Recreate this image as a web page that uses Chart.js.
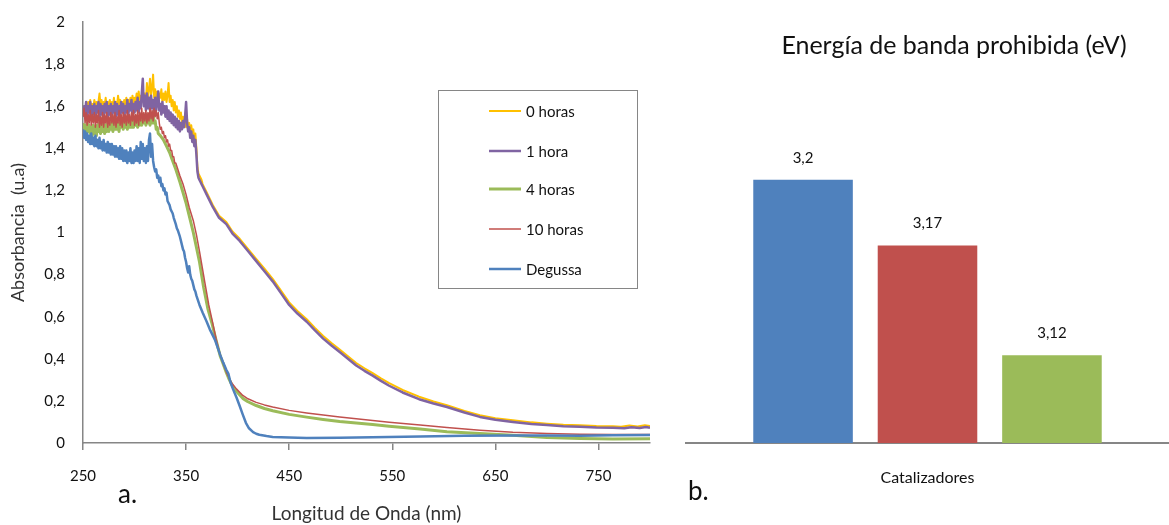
<!DOCTYPE html>
<html>
<head>
<meta charset="utf-8">
<script src="https://cdn.jsdelivr.net/npm/chart.js@4.4.1/dist/chart.umd.min.js"></script>
<style>
  body { margin: 0; background: #fff; }
  #left { position: absolute; left: 0; top: 0; }
  #right { position: absolute; left: 680px; top: 0; }
</style>
</head>
<body>
<canvas id="left" width="680" height="525"></canvas>
<canvas id="right" width="489" height="525"></canvas>
<script>
// a. absorbance spectra, [wavelength nm, absorbance]
const horas0 = [[250,1.56],[251,1.60],[252,1.57],[253,1.61],[254,1.58],[255,1.62],[256,1.59],[257,1.63],[258,1.58],[259,1.61],[260,1.59],[261,1.63],[262,1.58],[263,1.62],[264,1.60],[265,1.62],[266,1.66],[267,1.60],[268,1.63],[269,1.59],[270,1.62],[271,1.60],[272,1.64],[273,1.59],[274,1.62],[275,1.60],[276,1.63],[277,1.59],[278,1.62],[279,1.60],[280,1.64],[281,1.59],[282,1.62],[283,1.60],[284,1.65],[285,1.61],[286,1.63],[287,1.59],[288,1.62],[289,1.60],[290,1.63],[291,1.60],[292,1.64],[293,1.61],[294,1.63],[295,1.60],[296,1.64],[297,1.61],[298,1.65],[299,1.61],[300,1.64],[301,1.62],[302,1.66],[303,1.62],[304,1.67],[305,1.63],[306,1.65],[307,1.62],[308,1.68],[309,1.63],[310,1.66],[311,1.62],[312,1.71],[313,1.64],[314,1.68],[315,1.73],[316,1.65],[317,1.69],[318,1.75],[319,1.64],[320,1.68],[321,1.63],[322,1.67],[323,1.62],[324,1.66],[325,1.64],[326,1.68],[327,1.62],[328,1.66],[329,1.63],[330,1.67],[331,1.62],[332,1.65],[333,1.71],[334,1.62],[335,1.65],[336,1.60],[337,1.63],[338,1.58],[339,1.62],[340,1.57],[341,1.60],[342,1.55],[343,1.58],[344,1.54],[345,1.57],[346,1.52],[347,1.55],[348,1.51],[349,1.54],[350,1.50],[351,1.54],[352,1.49],[353,1.52],[354,1.48],[355,1.51],[356,1.47],[357,1.49],[358,1.44],[359,1.47],[360,1.40],[361,1.31],[362,1.28],[363,1.27],[364,1.26],[365,1.25],[366,1.23],[370,1.19],[376,1.13],[382,1.08],[389,1.05],[395,1.005],[402,0.97],[410,0.922],[418,0.875],[426,0.828],[434,0.78],[442,0.724],[450,0.668],[458,0.627],[467,0.588],[475,0.547],[483,0.508],[491,0.475],[499,0.444],[507,0.412],[515,0.38],[523,0.355],[531,0.332],[539,0.307],[547,0.284],[560,0.252],[576,0.22],[590,0.197],[603,0.179],[620,0.152],[635,0.132],[650,0.118],[667,0.108],[685,0.098],[700,0.092],[716,0.087],[732,0.084],[748,0.081],[764,0.08],[772,0.077],[780,0.083],[788,0.078],[795,0.084],[800,0.081]];
const hora1 = [[250,1.55],[251,1.60],[252,1.56],[253,1.62],[254,1.55],[255,1.60],[256,1.57],[257,1.62],[258,1.54],[259,1.60],[260,1.56],[261,1.61],[262,1.55],[263,1.60],[264,1.57],[265,1.62],[266,1.55],[267,1.61],[268,1.56],[269,1.60],[270,1.55],[271,1.61],[272,1.57],[273,1.62],[274,1.55],[275,1.60],[276,1.56],[277,1.61],[278,1.54],[279,1.60],[280,1.57],[281,1.62],[282,1.55],[283,1.61],[284,1.56],[285,1.60],[286,1.55],[287,1.62],[288,1.57],[289,1.61],[290,1.55],[291,1.60],[292,1.57],[293,1.63],[294,1.56],[295,1.61],[296,1.58],[297,1.63],[298,1.56],[299,1.61],[300,1.57],[301,1.62],[302,1.58],[303,1.64],[304,1.57],[305,1.62],[306,1.59],[307,1.66],[308,1.73],[309,1.60],[310,1.65],[311,1.58],[312,1.66],[313,1.59],[314,1.64],[315,1.58],[316,1.65],[317,1.59],[318,1.63],[319,1.57],[320,1.64],[321,1.58],[322,1.62],[323,1.67],[324,1.58],[325,1.61],[326,1.56],[327,1.62],[328,1.57],[329,1.60],[330,1.55],[331,1.60],[332,1.54],[333,1.58],[334,1.53],[335,1.57],[336,1.52],[337,1.56],[338,1.51],[339,1.55],[340,1.50],[341,1.54],[342,1.49],[343,1.53],[344,1.48],[345,1.52],[346,1.49],[347,1.53],[348,1.50],[349,1.55],[350,1.62],[351,1.52],[352,1.48],[353,1.50],[354,1.45],[355,1.48],[356,1.43],[357,1.46],[358,1.41],[359,1.44],[360,1.37],[361,1.29],[362,1.26],[363,1.25],[364,1.24],[365,1.23],[366,1.22],[370,1.18],[376,1.12],[382,1.07],[389,1.04],[395,0.995],[402,0.96],[410,0.912],[418,0.864],[426,0.816],[434,0.768],[442,0.712],[450,0.656],[458,0.615],[467,0.576],[475,0.535],[483,0.496],[491,0.463],[499,0.432],[507,0.40],[515,0.368],[523,0.343],[531,0.32],[539,0.295],[547,0.272],[560,0.24],[576,0.208],[590,0.188],[603,0.171],[620,0.145],[635,0.124],[650,0.11],[667,0.10],[685,0.09],[700,0.085],[716,0.08],[732,0.077],[748,0.074],[764,0.073],[775,0.07],[782,0.075],[790,0.071],[796,0.076],[800,0.072]];
const horas4 = [[250,1.52],[251,1.48],[252,1.51],[253,1.47],[254,1.52],[255,1.48],[256,1.51],[257,1.47],[258,1.50],[259,1.46],[260,1.51],[261,1.47],[262,1.50],[263,1.46],[264,1.51],[265,1.48],[266,1.52],[267,1.47],[268,1.51],[269,1.48],[270,1.52],[271,1.47],[272,1.51],[273,1.48],[274,1.53],[275,1.48],[276,1.52],[277,1.49],[278,1.53],[279,1.48],[280,1.52],[281,1.49],[282,1.53],[283,1.49],[284,1.52],[285,1.48],[286,1.53],[287,1.50],[288,1.54],[289,1.49],[290,1.53],[291,1.50],[292,1.54],[293,1.49],[294,1.53],[295,1.50],[296,1.54],[297,1.50],[298,1.55],[299,1.50],[300,1.54],[301,1.51],[302,1.55],[303,1.50],[304,1.54],[305,1.51],[306,1.55],[307,1.51],[308,1.56],[309,1.52],[310,1.55],[311,1.51],[312,1.56],[313,1.52],[314,1.55],[315,1.51],[316,1.56],[317,1.52],[318,1.57],[319,1.52],[320,1.53],[321,1.49],[322,1.50],[323,1.47],[325,1.46],[328,1.44],[331,1.41],[334,1.38],[337,1.34],[340,1.30],[344,1.24],[347,1.19],[350,1.14],[353,1.08],[357,1.00],[360,0.93],[363,0.86],[367,0.74],[371,0.64],[375,0.57],[379,0.49],[383,0.415],[386,0.375],[389,0.335],[392,0.30],[395,0.27],[399,0.245],[405,0.212],[410,0.196],[418,0.178],[426,0.164],[434,0.153],[450,0.136],[467,0.123],[483,0.112],[499,0.102],[515,0.095],[531,0.088],[547,0.08],[577,0.066],[603,0.054],[635,0.045],[667,0.037],[700,0.026],[732,0.021],[764,0.019],[800,0.02]];
const horas10 = [[250,1.55],[251,1.59],[252,1.52],[253,1.57],[254,1.51],[255,1.56],[256,1.52],[257,1.58],[258,1.51],[259,1.56],[260,1.52],[261,1.57],[262,1.50],[263,1.56],[264,1.52],[265,1.58],[266,1.50],[267,1.55],[268,1.51],[269,1.57],[270,1.50],[271,1.56],[272,1.52],[273,1.57],[274,1.50],[275,1.55],[276,1.51],[277,1.57],[278,1.52],[279,1.56],[280,1.51],[281,1.57],[282,1.50],[283,1.55],[284,1.52],[285,1.58],[286,1.51],[287,1.56],[288,1.50],[289,1.57],[290,1.52],[291,1.56],[292,1.51],[293,1.58],[294,1.52],[295,1.56],[296,1.51],[297,1.57],[298,1.53],[299,1.58],[300,1.51],[301,1.56],[302,1.52],[303,1.58],[304,1.51],[305,1.57],[306,1.53],[307,1.59],[308,1.52],[309,1.57],[310,1.53],[311,1.58],[312,1.52],[313,1.57],[314,1.53],[315,1.59],[316,1.54],[317,1.58],[318,1.53],[319,1.59],[320,1.55],[321,1.58],[322,1.54],[323,1.57],[324,1.52],[325,1.49],[326,1.50],[327,1.47],[328,1.48],[329,1.45],[330,1.46],[331,1.43],[332,1.44],[333,1.41],[334,1.42],[335,1.39],[336,1.39],[337,1.36],[338,1.36],[339,1.33],[340,1.33],[344,1.27],[347,1.23],[350,1.18],[353,1.12],[357,1.056],[360,0.99],[363,0.91],[368,0.768],[372,0.656],[376,0.566],[379,0.496],[383,0.42],[386,0.378],[389,0.338],[392,0.305],[395,0.28],[399,0.256],[405,0.226],[410,0.21],[418,0.193],[426,0.181],[434,0.171],[450,0.155],[467,0.143],[483,0.133],[499,0.124],[515,0.115],[531,0.107],[547,0.099],[577,0.086],[603,0.074],[635,0.061],[667,0.051],[700,0.045],[732,0.042],[764,0.04],[800,0.04]];
const degussa = [[250,1.49],[251,1.45],[252,1.48],[253,1.44],[254,1.47],[255,1.43],[256,1.46],[257,1.42],[258,1.47],[259,1.42],[260,1.45],[261,1.41],[262,1.46],[263,1.41],[264,1.44],[265,1.40],[266,1.45],[267,1.40],[268,1.43],[269,1.39],[270,1.44],[271,1.39],[272,1.42],[273,1.38],[274,1.43],[275,1.38],[276,1.42],[277,1.37],[278,1.42],[279,1.37],[280,1.41],[281,1.36],[282,1.41],[283,1.36],[284,1.40],[285,1.35],[286,1.41],[287,1.35],[288,1.40],[289,1.34],[290,1.39],[291,1.34],[292,1.39],[293,1.33],[294,1.38],[295,1.34],[296,1.40],[297,1.33],[298,1.38],[299,1.33],[300,1.39],[301,1.34],[302,1.41],[303,1.34],[304,1.40],[305,1.33],[306,1.43],[307,1.35],[308,1.42],[309,1.34],[310,1.40],[311,1.33],[312,1.41],[313,1.34],[314,1.44],[315,1.47],[316,1.36],[317,1.42],[318,1.34],[319,1.31],[320,1.29],[321,1.30],[322,1.26],[323,1.27],[324,1.24],[325,1.26],[326,1.22],[327,1.23],[328,1.20],[329,1.21],[330,1.18],[331,1.19],[332,1.15],[334,1.13],[335,1.11],[337,1.09],[338,1.07],[340,1.04],[341,1.02],[342,1.01],[344,0.98],[345,0.96],[347,0.92],[348,0.91],[349,0.88],[350,0.86],[351,0.83],[352,0.81],[353,0.84],[354,0.80],[355,0.78],[356,0.77],[357,0.75],[358,0.73],[359,0.72],[360,0.70],[363,0.656],[366,0.62],[370,0.576],[373,0.54],[376,0.51],[378,0.49],[383,0.42],[386,0.382],[389,0.348],[391,0.33],[393,0.29],[395.5,0.256],[399,0.215],[402,0.176],[405,0.135],[408,0.096],[411,0.07],[415,0.052],[418,0.044],[421,0.039],[428,0.033],[434,0.029],[450,0.026],[467,0.024],[499,0.025],[531,0.027],[577,0.031],[620,0.034],[667,0.036],[700,0.036],[732,0.035],[764,0.037],[800,0.038]];

const seriesNames = ['0 horas', '1 hora', '4 horas', '10 horas', 'Degussa'];
const seriesData = [horas0, hora1, horas4, horas10, degussa];
const seriesColors = ['#FFC000', '#8064A2', '#9BBB59', '#C0504D', '#4F81BD'];
const seriesWidths = [2, 2.5, 3, 1.5, 2.5];
const xTicks = [250, 350, 450, 550, 650, 750];

// b. band gap
const barCategories = ['Catalizadores'];
const barNames = ['Degussa', '10 horas', '4 horas'];
const bandGap = [3.2, 3.17, 3.12];
const barColors = ['#4F81BD', '#C0504D', '#9BBB59'];

const txt = '#111';
const axisGrey = '#868686';

// legend box inside the spectra chart
const boxLegend = {
  id: 'boxLegend',
  afterDraw(chart) {
    const ctx = chart.ctx;
    ctx.save();
    ctx.fillStyle = '#fff';
    ctx.fillRect(438, 90, 199, 198);
    ctx.strokeStyle = axisGrey;
    ctx.lineWidth = 1;
    ctx.strokeRect(438.5, 90.5, 199, 198);
    const rows = [111, 151, 189, 229, 269];
    ctx.font = '15px Lato';
    ctx.textBaseline = 'middle';
    seriesNames.forEach((name, i) => {
      ctx.strokeStyle = seriesColors[i];
      ctx.lineWidth = seriesWidths[i];
      ctx.beginPath();
      ctx.moveTo(489, rows[i]);
      ctx.lineTo(521, rows[i]);
      ctx.stroke();
      ctx.fillStyle = txt;
      ctx.fillText(name, 526, rows[i] + 1);
    });
    ctx.font = '26px Lato';
    ctx.textBaseline = 'alphabetic';
    ctx.fillText('a.', 118, 503);
    ctx.restore();
  }
};

new Chart(document.getElementById('left'), {
  type: 'line',
  data: {
    datasets: seriesData.map((d, i) => ({
      label: seriesNames[i],
      data: d.map(p => ({ x: p[0], y: p[1] })),
      borderColor: seriesColors[i],
      borderWidth: seriesWidths[i],
      borderJoinStyle: 'round',
      pointRadius: 0,
      order: seriesNames.length - i
    }))
  },
  options: {
    responsive: false,
    animation: false,
    layout: { padding: { top: 22, right: 30, left: 0, bottom: 0 } },
    plugins: { legend: { display: false }, tooltip: { enabled: false } },
    scales: {
      x: {
        type: 'linear', min: 250, max: 800,
        afterBuildTicks: s => { s.ticks = xTicks.map(v => ({ value: v })); },
        afterFit: s => { s.height = 82; },
        grid: { drawOnChartArea: false, drawTicks: true, tickLength: 7, color: axisGrey, lineWidth: 1.5 },
        border: { color: axisGrey, width: 1.5 },
        ticks: { padding: 17, maxRotation: 0, color: txt, font: { family: 'Lato', size: 15 } },
        title: { display: true, text: 'Longitud de Onda (nm)', color: '#333', font: { family: 'Lato', size: 19 }, padding: { top: 0, bottom: 0 } }
      },
      y: {
        min: 0, max: 2,
        afterFit: s => { s.width = 83; },
        grid: { drawOnChartArea: false, drawTicks: true, tickLength: 5, color: 'rgba(0,0,0,0)' },
        border: { color: axisGrey, width: 1.5 },
        ticks: {
          stepSize: 0.2, padding: 13, color: txt, font: { family: 'Lato', size: 15 },
          callback: v => String(Number(v.toFixed(1))).replace('.', ',')
        },
        title: { display: true, text: 'Absorbancia  (u.a)', color: '#333', font: { family: 'Lato', size: 18 }, padding: { top: 7, bottom: 0 } }
      }
    }
  },
  plugins: [boxLegend]
});

// value labels, title and panel letter for the bar chart
const barText = {
  id: 'barText',
  afterDraw(chart) {
    const ctx = chart.ctx;
    ctx.save();
    ctx.fillStyle = txt;
    ctx.textAlign = 'center';
    ctx.textBaseline = 'middle';
    ctx.font = '15px Lato';
    chart.data.datasets.forEach((ds, i) => {
      chart.getDatasetMeta(i).data.forEach((bar, j) => {
        ctx.fillText(String(ds.data[j]).replace('.', ','), bar.x, bar.y - 22);
      });
    });
    ctx.font = '25px Lato';
    ctx.fillText('Energía de banda prohibida (eV)', 274, 46);
    ctx.textAlign = 'left';
    ctx.textBaseline = 'alphabetic';
    ctx.font = '26px Lato';
    ctx.fillText('b.', 8, 500);
    ctx.restore();
  }
};

new Chart(document.getElementById('right'), {
  type: 'bar',
  data: {
    labels: barCategories,
    datasets: bandGap.map((v, i) => ({
      label: barNames[i],
      data: [v],
      backgroundColor: barColors[i],
      categoryPercentage: 0.773,
      barPercentage: 0.8
    }))
  },
  options: {
    responsive: false,
    animation: false,
    layout: { padding: { top: 70, left: 6, right: 0, bottom: 0 } },
    plugins: { legend: { display: false }, tooltip: { enabled: false } },
    scales: {
      x: {
        afterFit: s => { s.height = 82; },
        grid: { drawOnChartArea: false, drawTicks: false },
        border: { color: axisGrey, width: 2 },
        ticks: { padding: 25, color: txt, font: { family: 'Lato', size: 16 } }
      },
      y: { display: false, min: 3.08, max: 3.25 }
    }
  },
  plugins: [barText]
});
</script>
</body>
</html>
